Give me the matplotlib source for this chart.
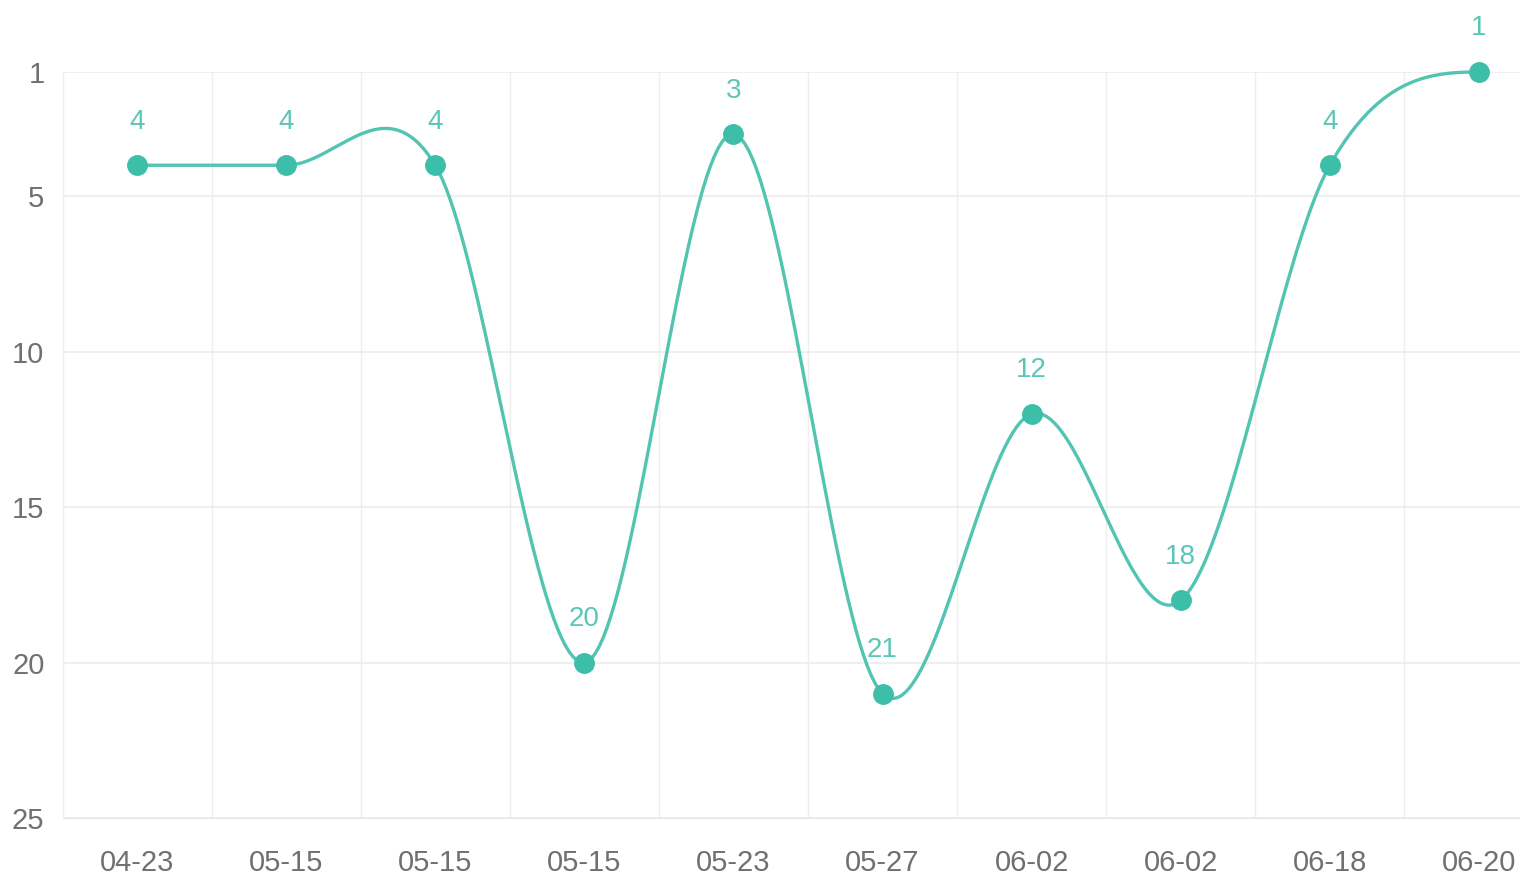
import matplotlib.pyplot as plt
import numpy as np

# rank by date (lower is better, so the y axis is inverted)
dates = ['04-23', '05-15', '05-15', '05-15', '05-23', '05-27', '06-02', '06-02', '06-18', '06-20']
ranks = [4, 4, 4, 20, 3, 21, 12, 18, 4, 1]
y_ticks = [1, 5, 10, 15, 20, 25]

LINE = '#52c4b2'
DOT = '#3dbea8'
FONT = ['Liberation Sans', 'DejaVu Sans']


def smooth_curve(y, steps=40):
    # cubic hermite (catmull-rom) through the points, flat ends
    y = np.asarray(y, dtype=float)
    n = len(y)
    m = np.zeros(n)
    m[1:-1] = (y[2:] - y[:-2]) / 2
    xs, ys = [], []
    for i in range(n - 1):
        t = np.linspace(0, 1, steps)
        h00 = 2 * t**3 - 3 * t**2 + 1
        h10 = t**3 - 2 * t**2 + t
        h01 = -2 * t**3 + 3 * t**2
        h11 = t**3 - t**2
        xs.append(i + t)
        ys.append(h00 * y[i] + h10 * m[i] + h01 * y[i + 1] + h11 * m[i + 1])
    return np.concatenate(xs), np.concatenate(ys)


fig = plt.figure(figsize=(15.2, 8.83), dpi=100)
ax = fig.add_axes([62.5 / 1520, 1 - 818 / 883, (1553.5 - 62.5) / 1520, (818 - 72) / 883])

x = np.arange(len(dates))
cx, cy = smooth_curve(ranks)
ax.plot(cx, cy, color=LINE, linewidth=2.4, zorder=3, clip_on=False)
ax.plot(x, ranks, 'o', color=DOT, markersize=14, zorder=4, clip_on=False)

for xi, r in zip(x, ranks):
    ax.annotate(str(r), (xi, r), xytext=(0, 22), textcoords='offset points',
                ha='center', va='bottom', fontsize=20, color='#5cc6b6', family=FONT)

ax.set_xlim(-0.5, len(dates) - 0.5)
ax.set_ylim(25, 1)
ax.set_yticks(y_ticks)
ax.set_xticks(x)
ax.set_xticklabels(dates)

# band separators as vertical grid
for b in np.arange(-0.5, len(dates), 1.0):
    ax.axvline(b, color='#eeeeee', linewidth=1, zorder=1)
for t in y_ticks:
    ax.axhline(t, color='#ececec', linewidth=1.2, zorder=1)

for s in ['top', 'right', 'left']:
    ax.spines[s].set_visible(False)
ax.spines['bottom'].set_color('#e6e6e6')
ax.tick_params(axis='both', length=0, labelsize=21, labelcolor='#707070')
ax.tick_params(axis='x', pad=22)
ax.tick_params(axis='y', pad=13)
for lab in ax.get_xticklabels() + ax.get_yticklabels():
    lab.set_family(FONT)

plt.savefig('out.png', dpi=100, facecolor='white')
